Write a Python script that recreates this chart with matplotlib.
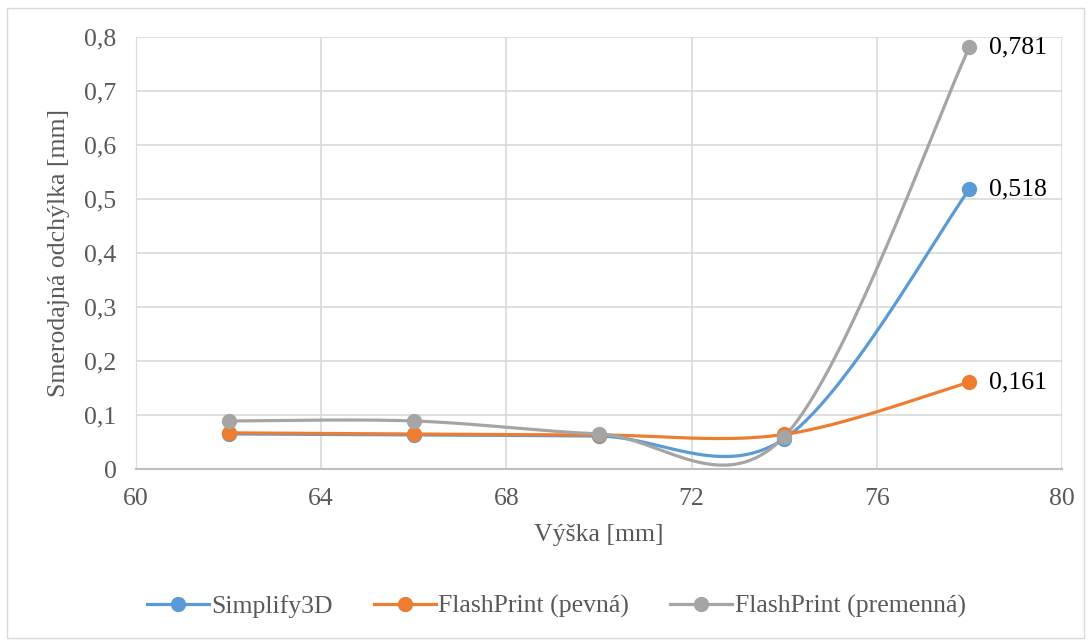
import numpy as np
import matplotlib
matplotlib.use("Agg")
import matplotlib.pyplot as plt
from matplotlib.patches import Rectangle
from matplotlib.ticker import FuncFormatter

plt.rcParams['font.family'] = ['Liberation Serif', 'DejaVu Serif']

vyska = [62, 66, 70, 74, 78]
simplify3d = [0.065, 0.063, 0.061, 0.056, 0.518]
flash_pevna = [0.067, 0.065, 0.063, 0.064, 0.161]
flash_premenna = [0.089, 0.089, 0.065, 0.060, 0.781]

nazvy = ['Simplify3D', 'FlashPrint (pevná)', 'FlashPrint (premenná)']
farby = ['#5B9BD5', '#ED7D31', '#A5A5A5']
sivy_text = '#595959'
velkost = 18.5


def hladka_krivka(x, y, n=40):
    # Excel-like smoothing (Catmull-Rom as cubic Bezier)
    x = np.asarray(x, float)
    y = np.asarray(y, float)
    p = np.column_stack([x, y])
    out = []
    for i in range(len(p) - 1):
        p0 = p[i - 1] if i > 0 else p[i]
        p1 = p[i]
        p2 = p[i + 1]
        p3 = p[i + 2] if i + 2 < len(p) else p[i + 1]
        c1 = p1 + (p2 - p0) / 6
        c2 = p2 - (p3 - p1) / 6
        t = np.linspace(0, 1, n)[:, None]
        seg = ((1 - t) ** 3 * p1 + 3 * (1 - t) ** 2 * t * c1
               + 3 * (1 - t) * t ** 2 * c2 + t ** 3 * p2)
        out.append(seg if i == 0 else seg[1:])
    s = np.vstack(out)
    return s[:, 0], s[:, 1]


fig = plt.figure(figsize=(10.91, 6.44), dpi=100)
fig.patches.append(Rectangle((0.006, 0.01), 0.988, 0.978, transform=fig.transFigure,
                             fill=False, edgecolor='#d9d9d9', linewidth=1))
ax = fig.add_axes([0.1247, 0.2717, 0.8487, 0.6708])

for data, nazov, farba in zip([simplify3d, flash_pevna, flash_premenna], nazvy, farby):
    xs, ys = hladka_krivka(vyska, data)
    ax.plot(xs, ys, color=farba, linewidth=2.3, solid_capstyle='round', zorder=3)
    ax.plot(vyska, data, 'o', color=farba, markersize=10, zorder=4)
    ax.plot([], [], '-o', color=farba, linewidth=2.3, markersize=10, label=nazov)
    ax.annotate(f'{data[-1]:.3f}'.replace('.', ','), (vyska[-1], data[-1]),
                xytext=(14, 0), textcoords='offset points', va='center',
                fontsize=velkost, color='black')

ax.set_xlim(60, 80)
ax.set_ylim(0, 0.8)
ax.set_xticks(np.arange(60, 81, 4))
ax.set_yticks(np.arange(0, 0.81, 0.1))
ax.yaxis.set_major_formatter(FuncFormatter(
    lambda v, _: '0' if abs(v) < 1e-9 else f'{v:.1f}'.replace('.', ',')))
ax.grid(True, color='#d9d9d9', linewidth=1.2)
ax.set_axisbelow(True)
for s in ['top', 'right']:
    ax.spines[s].set_visible(False)
ax.spines['left'].set_color('#d9d9d9')
ax.spines['bottom'].set_color('#bfbfbf')
ax.spines['bottom'].set_linewidth(1.5)
ax.tick_params(axis='y', length=0, labelsize=velkost, labelcolor=sivy_text, pad=14)
ax.tick_params(axis='x', length=0, labelsize=velkost, labelcolor=sivy_text, pad=14)
ax.set_xlabel('Výška [mm]', fontsize=velkost, color=sivy_text, labelpad=10)
ax.set_ylabel('Smerodajná odchýlka [mm]', fontsize=velkost, color=sivy_text, labelpad=10)

fig.legend(loc='center', bbox_to_anchor=(0.51, 0.058), ncol=3, frameon=False,
           fontsize=velkost, labelcolor=sivy_text, handlelength=2.4, handletextpad=0.1,
           columnspacing=1.6)

fig.savefig('out.png', dpi=100)
